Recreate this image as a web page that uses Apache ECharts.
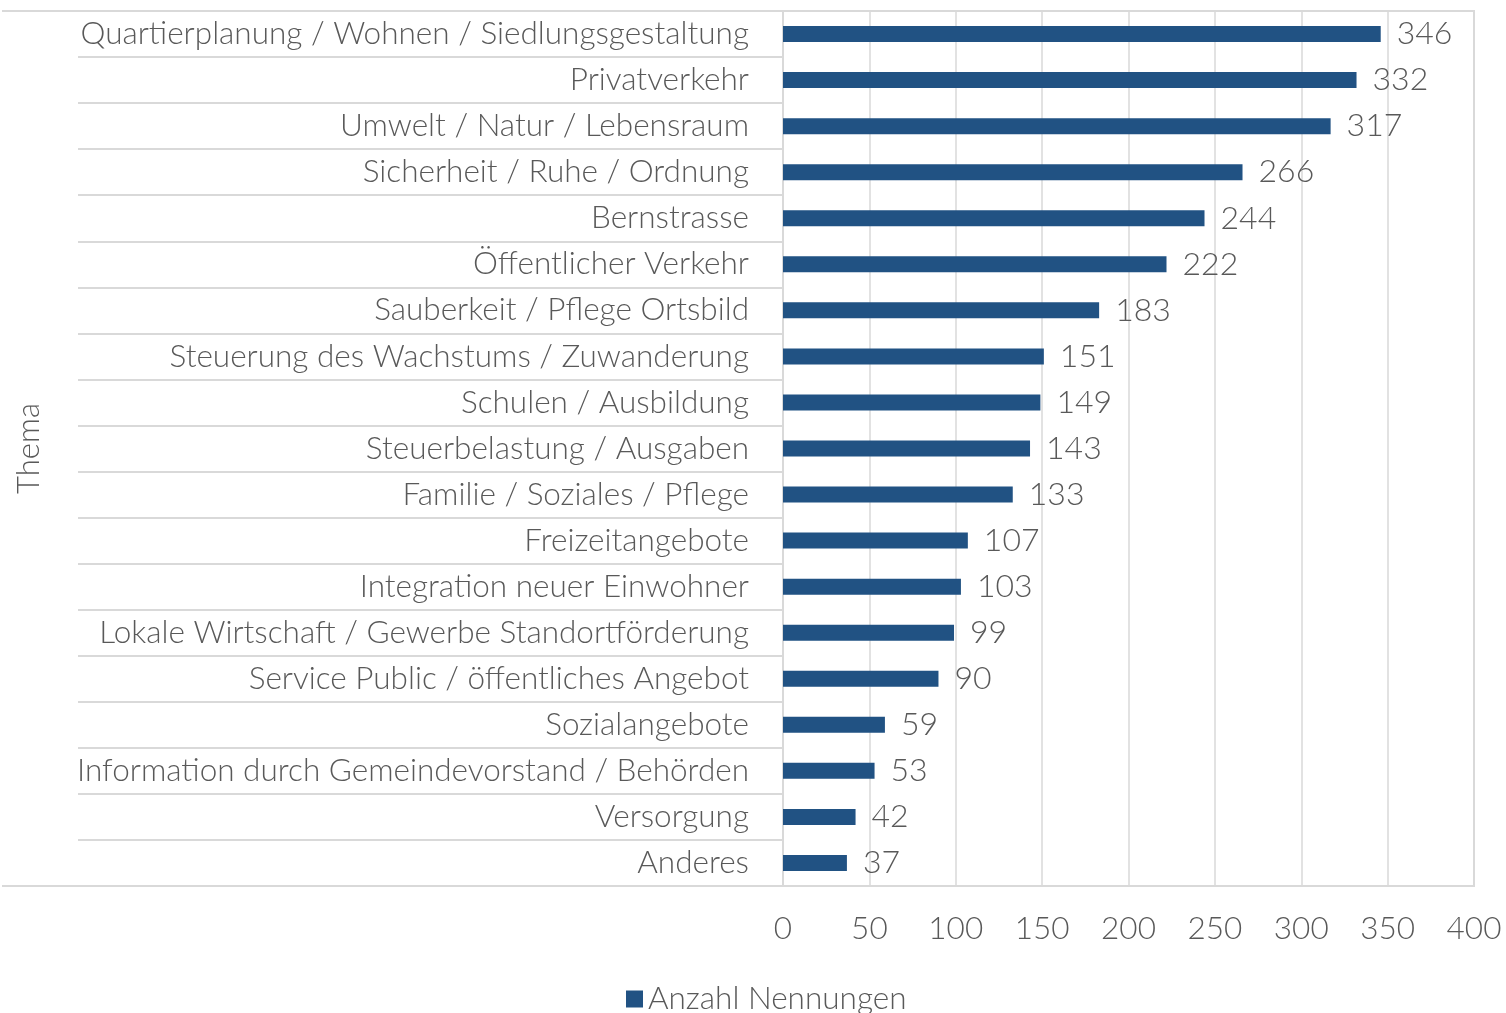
<!DOCTYPE html>
<html lang="de">
<head>
    <meta charset="UTF-8">
    <title>Anzahl Nennungen nach Thema</title>
    <script src="https://cdn.jsdelivr.net/npm/echarts@6/dist/echarts.min.js"></script>
    <style>
        html, body { margin: 0; padding: 0; background: #fff; }
        #chart { width: 1506px; height: 1013px; }
    </style>
</head>
<body>
<div id="chart"></div>
<script>
  // Themen (von oben nach unten)
  var themen = [
    'Quartierplanung / Wohnen / Siedlungsgestaltung',
    'Privatverkehr',
    'Umwelt / Natur / Lebensraum',
    'Sicherheit / Ruhe / Ordnung',
    'Bernstrasse',
    'Öffentlicher Verkehr',
    'Sauberkeit / Pflege Ortsbild',
    'Steuerung des Wachstums / Zuwanderung',
    'Schulen / Ausbildung',
    'Steuerbelastung / Ausgaben',
    'Familie / Soziales / Pflege',
    'Freizeitangebote',
    'Integration neuer Einwohner',
    'Lokale Wirtschaft / Gewerbe Standortförderung',
    'Service Public / öffentliches Angebot',
    'Sozialangebote',
    'Information durch Gemeindevorstand / Behörden',
    'Versorgung',
    'Anderes'
  ];
  var nennungen = [346, 332, 317, 266, 244, 222, 183, 151, 149, 143, 133, 107, 103, 99, 90, 59, 53, 42, 37];
  var seriesName = 'Anzahl Nennungen';
  var achseName = 'Thema';

  var FONT = 'Lato';
  var GREY = '#595959';
  var LINE = '#d9d9d9';
  var BLUE = '#215283';

  var chart = echarts.init(document.getElementById('chart'));
  chart.setOption({
    animation: false,
    textStyle: { fontFamily: FONT, fontWeight: 300 },
    grid: [
      { left: 783, right: 32, top: 11, bottom: 127, show: true, borderColor: LINE, borderWidth: 2 },
      { left: 78, width: 706, top: 11, bottom: 127 }
    ],
    legend: {
      data: [seriesName],
      left: 621,
      top: 978,
      icon: 'rect',
      itemWidth: 17,
      itemHeight: 17,
      itemGap: 8,
      textStyle: { fontFamily: FONT, fontWeight: 300, fontSize: 31.5, color: GREY }
    },
    xAxis: [{
      gridIndex: 0,
      type: 'value',
      min: 0,
      max: 400,
      interval: 50,
      axisLine: { show: false },
      axisTick: { show: false },
      axisLabel: { fontFamily: FONT, fontWeight: 300, fontSize: 31.5, color: GREY, margin: 27 },
      splitLine: { show: true, lineStyle: { color: LINE, width: 1.5 } }
    }, {
      gridIndex: 1,
      type: 'value',
      min: 0,
      max: 1,
      show: false
    }],
    yAxis: [{
      gridIndex: 0,
      type: 'category',
      inverse: true,
      data: themen,
      axisTick: { show: false },
      axisLine: { show: true, lineStyle: { color: LINE, width: 2 } },
      axisLabel: { fontFamily: FONT, fontWeight: 300, fontSize: 31.5, color: GREY, margin: 34 },
      name: achseName,
      nameLocation: 'middle',
      nameGap: 739,
      nameTextStyle: { fontFamily: FONT, fontWeight: 300, fontSize: 31, color: GREY }
    }, {
      gridIndex: 1,
      type: 'category',
      inverse: true,
      data: themen,
      axisLine: { show: false },
      axisTick: { show: false },
      axisLabel: { show: false },
      splitLine: { show: true, lineStyle: { color: LINE, width: 2 } }
    }],
    graphic: [
      // obere und untere Rahmenlinie ueber die ganze Breite
      { type: 'line', shape: { x1: 2, y1: 11, x2: 783, y2: 11 }, style: { stroke: LINE, lineWidth: 2 } },
      { type: 'line', shape: { x1: 2, y1: 886, x2: 783, y2: 886 }, style: { stroke: LINE, lineWidth: 2 } }
    ],
    series: [{
      name: seriesName,
      type: 'bar',
      xAxisIndex: 0,
      yAxisIndex: 0,
      data: nennungen,
      barWidth: 16,
      itemStyle: { color: BLUE },
      label: {
        show: true,
        position: 'right',
        distance: 16,
        fontFamily: FONT,
        fontWeight: 300,
        fontSize: 32,
        color: GREY
      }
    }]
  });
</script>
</body>
</html>
